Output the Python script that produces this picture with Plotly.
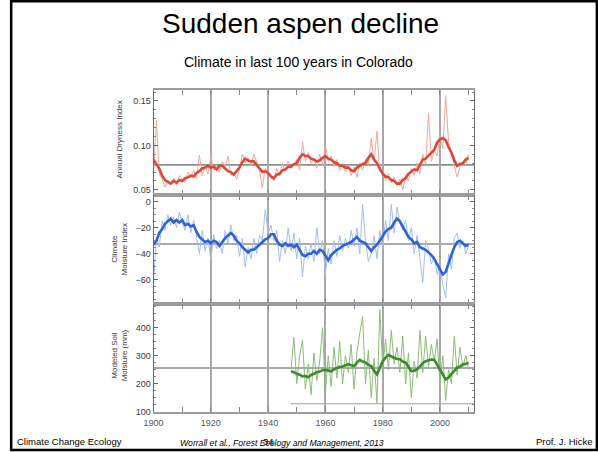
import plotly.graph_objects as go

# ---------------------------------------------------------------- data
years = list(range(1900, 2011))

dry_annual = [
    0.070, 0.128, 0.068, 0.062, 0.053, 0.060, 0.058, 0.063, 0.055, 0.066,
    0.062, 0.058, 0.070, 0.064, 0.072, 0.062, 0.089, 0.066, 0.077, 0.068,
    0.088, 0.072, 0.078, 0.070, 0.082, 0.076, 0.088, 0.066, 0.070, 0.062,
    0.072, 0.090, 0.080, 0.086, 0.078, 0.090, 0.082, 0.072, 0.052, 0.074,
    0.068, 0.064, 0.060, 0.074, 0.066, 0.080, 0.070, 0.082, 0.074, 0.078,
    0.084, 0.072, 0.104, 0.082, 0.092, 0.080, 0.086, 0.074, 0.090, 0.078,
    0.100, 0.082, 0.088, 0.076, 0.084, 0.072, 0.080, 0.070, 0.078, 0.066,
    0.076, 0.064, 0.080, 0.072, 0.084, 0.078, 0.108, 0.082, 0.116, 0.070,
    0.072, 0.060, 0.068, 0.058, 0.064, 0.054, 0.062, 0.050, 0.066, 0.060,
    0.074, 0.066, 0.080, 0.068, 0.090, 0.078, 0.136, 0.082, 0.094, 0.088,
    0.112, 0.096, 0.155, 0.104, 0.090, 0.078, 0.064, 0.076, 0.082, 0.078,
    0.090,
]
dry_smooth = [
    0.084, 0.079, 0.074, 0.066, 0.061, 0.059, 0.057, 0.060, 0.058, 0.061,
    0.060, 0.063, 0.064, 0.066, 0.065, 0.069, 0.071, 0.074, 0.075, 0.077,
    0.075, 0.076, 0.073, 0.077, 0.077, 0.074, 0.071, 0.070, 0.067, 0.071,
    0.075, 0.081, 0.085, 0.083, 0.082, 0.082, 0.078, 0.075, 0.070, 0.071,
    0.069, 0.065, 0.063, 0.067, 0.068, 0.072, 0.073, 0.076, 0.076, 0.079,
    0.080, 0.086, 0.090, 0.088, 0.088, 0.085, 0.084, 0.082, 0.083, 0.086,
    0.088, 0.085, 0.084, 0.081, 0.080, 0.077, 0.077, 0.075, 0.075, 0.072,
    0.071, 0.075, 0.077, 0.079, 0.080, 0.086, 0.090, 0.084, 0.080, 0.073,
    0.068, 0.065, 0.064, 0.061, 0.060, 0.057, 0.057, 0.061, 0.063, 0.068,
    0.071, 0.073, 0.072, 0.079, 0.084, 0.085, 0.088, 0.092, 0.095, 0.103,
    0.107, 0.108, 0.106, 0.098, 0.092, 0.083, 0.077, 0.079, 0.080, 0.084,
    0.086,
]

cmi_annual = [
    -62, -28, -35, -15, -22, -10, -18, -12, -20, -8,
    -16, -22, -10, -24, -14, -26, -40, -22, -38, -28,
    -45, -25, -36, -30, -40, -22, -32, -18, -30, -26,
    -42, -28, -50, -35, -44, -28, -40, -26, -30, -6,
    -24, -18, -30, -22, -46, -30, -40, -20, -38, -24,
    -44, -28, -58, -34, -44, -32, -46, -20, -40, -30,
    -56, -36, -48, -30, -42, -26, -38, -28, -36, -22,
    -34, -20, -40, -2, -30, -46, -40, -26, -44, -22,
    -36, -14, -30, -2, -24, -4, -16, -22, -14, -30,
    -20, -40, -26, -44, -62, -30, -36, -48, -42, -56,
    -50, -64, -74, -40, -52, -28, -24, -36, -30, -40,
    -34,
]
cmi_smooth = [
    -33, -30, -24, -21, -17, -15, -13, -16, -14, -16,
    -14, -18, -17, -19, -18, -23, -27, -29, -31, -30,
    -32, -30, -31, -34, -31, -28, -26, -24, -26, -30,
    -32, -35, -37, -39, -37, -37, -35, -33, -31, -29,
    -28, -25, -25, -30, -33, -34, -32, -34, -33, -35,
    -33, -37, -41, -42, -40, -40, -38, -40, -37, -38,
    -42, -45, -41, -39, -37, -36, -34, -33, -32, -31,
    -29, -27, -30, -31, -32, -35, -38, -35, -33, -30,
    -26, -23, -21, -20, -16, -13, -15, -19, -23, -27,
    -29, -32, -31, -35, -36, -37, -39, -41, -44, -48,
    -53, -56, -54, -47, -41, -35, -31, -30, -32, -34,
    -33,
]

soil_years = list(range(1948, 2011))
soil_annual = [
    250, 365, 200, 300, 355, 180, 270, 160, 310, 210,
    280, 400, 170, 300, 190, 330, 220, 350, 200, 300,
    240, 340, 180, 310, 380, 440, 200, 320, 150, 290,
    130, 465, 260, 360, 250, 390, 270, 330, 240, 370,
    200, 310, 150, 280, 220, 390, 240, 370, 260, 340,
    280, 360, 200, 300, 140, 250, 200, 370, 230, 330,
    260, 300, 250,
]
soil_smooth = [
    244, 241, 235, 232, 226, 227, 223, 231, 235, 241,
    243, 248, 249, 246, 244, 251, 255, 260, 261, 267,
    270, 266, 263, 275, 285, 279, 275, 267, 263, 246,
    233, 257, 279, 293, 303, 297, 293, 288, 287, 279,
    275, 258, 245, 246, 251, 262, 273, 280, 282, 286,
    285, 268, 250, 231, 215, 222, 233, 243, 257, 261,
    269, 270, 275,
]

# long-term reference levels drawn as horizontal guides
dry_mean = 0.078
cmi_mean = -32.5
soil_mean = 256
soil_base = 128

x_range = [1900, 2012]

# ---------------------------------------------------------------- layout helpers
W, H = 598, 452
# the page body insets the figure a little; screen positions below are
# converted back to figure coordinates with that inset taken out
INSET_X, SCALE_X, SCALE_Y = 8.0, 0.987, 0.99


def px(x):
    return (x / SCALE_X - INSET_X) / W


def py(y):
    return 1 - (y / SCALE_Y) / H


x_dom = [px(152), px(474)]
dom_top = [py(195), py(90)]
dom_mid = [py(304), py(195)]
dom_bot = [py(412), py(304)]

FONT = "Liberation Sans, Arial, sans-serif"
TICK_FONT = dict(family=FONT, size=9, color="#3a3a3a")

fig = go.Figure()

# annual series (thin) then smoothed series (thick)
fig.add_trace(go.Scatter(x=years, y=dry_annual, xaxis="x", yaxis="y", mode="lines",
                         line=dict(color="#f4a59b", width=1), hoverinfo="skip"))
fig.add_trace(go.Scatter(x=years, y=dry_smooth, xaxis="x", yaxis="y", mode="lines",
                         line=dict(color="#d8493a", width=2.6), hoverinfo="skip"))

fig.add_trace(go.Scatter(x=years, y=cmi_annual, xaxis="x2", yaxis="y2", mode="lines",
                         line=dict(color="#a4bdf0", width=1), hoverinfo="skip"))
fig.add_trace(go.Scatter(x=years, y=cmi_smooth, xaxis="x2", yaxis="y2", mode="lines",
                         line=dict(color="#2f62d6", width=2.6), hoverinfo="skip"))

fig.add_trace(go.Scatter(x=soil_years, y=soil_annual, xaxis="x3", yaxis="y3", mode="lines",
                         line=dict(color="#8dbc79", width=1), hoverinfo="skip"))
fig.add_trace(go.Scatter(x=soil_years, y=soil_smooth, xaxis="x3", yaxis="y3", mode="lines",
                         line=dict(color="#3b8a2c", width=2.6), hoverinfo="skip"))


def x_axis(anchor, labels):
    return dict(
        domain=x_dom, range=x_range, anchor=anchor,
        tick0=1900, dtick=20,
        showgrid=True, gridcolor="#a8a8a8", gridwidth=2,
        zeroline=False,
        showline=True, linecolor="#9c9c9c", linewidth=2, mirror="ticks",
        ticks="inside", ticklen=5, tickcolor="#8a8a8a", tickwidth=1,
        minor=dict(dtick=10, tick0=1900, ticks="inside", ticklen=5,
                   tickcolor="#8a8a8a", showgrid=False),
        showticklabels=labels, tickfont=dict(family=FONT, size=9, color="#555555"),
        ticklabelstandoff=2,
    )


def y_axis(dom, rng, tickvals, minor_dtick, anchor, fmt=None):
    ax = dict(
        domain=dom, range=rng, anchor=anchor,
        tickvals=tickvals,
        showgrid=False, zeroline=False,
        showline=True, linecolor="#6a6a6a", linewidth=1, mirror="ticks",
        ticks="inside", ticklen=4, tickcolor="#6a6a6a",
        minor=dict(dtick=minor_dtick, ticks="inside", ticklen=2, tickcolor="#8a8a8a"),
        tickfont=TICK_FONT,
    )
    if fmt:
        ax["tickformat"] = fmt
    return ax


fig.update_layout(
    width=W, height=H,
    margin=dict(l=0, r=0, t=0, b=0),
    paper_bgcolor="white", plot_bgcolor="white",
    showlegend=False,
    xaxis=x_axis("y", False),
    xaxis2=x_axis("y2", False),
    xaxis3=x_axis("y3", True),
    yaxis=y_axis(dom_top, [0.0444, 0.1624], [0.05, 0.10, 0.15], 0.01, "x", ".2f"),
    yaxis2=y_axis(dom_mid, [-78.5, 5.4], [0, -20, -40, -60], 5, "x2"),
    yaxis3=y_axis(dom_bot, [100, 486], [100, 200, 300, 400], 25, "x3"),
)

# horizontal reference levels
guide = dict(color="#8e8e8e", width=1.6)
fig.add_shape(type="line", xref="x", yref="y", x0=x_range[0], x1=x_range[1],
              y0=dry_mean, y1=dry_mean, line=guide, layer="below")
fig.add_shape(type="line", xref="x2", yref="y2", x0=x_range[0], x1=x_range[1],
              y0=cmi_mean, y1=cmi_mean, line=guide, layer="below")
fig.add_shape(type="line", xref="x3", yref="y3", x0=x_range[0], x1=x_range[1],
              y0=soil_mean, y1=soil_mean, line=guide, layer="below")
fig.add_shape(type="line", xref="x3", yref="y3", x0=soil_years[0], x1=x_range[1],
              y0=soil_base, y1=soil_base, line=dict(color="#a0a0a0", width=1.2), layer="below")

# slide frame
fig.add_shape(type="rect", xref="paper", yref="paper",
              x0=0.002, x1=px(597), y0=py(450.5), y1=py(1.2),
              line=dict(color="black", width=2.5))

# axis titles
ytitle_font = dict(family=FONT, size=8, color="#3a3a3a")
for text, yc in [("Annual Dryness Index", 140),
                 ("Climate<br>Moisture Index", 250),
                 ("Modeled Soil<br>Moisture (mm)", 356)]:
    fig.add_annotation(text=text, xref="paper", yref="paper", x=px(118), y=py(yc),
                       textangle=-90, showarrow=False, font=ytitle_font,
                       xanchor="center", yanchor="middle")

# slide text
fig.add_annotation(text="Sudden aspen decline", xref="paper", yref="paper",
                   x=px(299), y=py(24), showarrow=False, xanchor="center", yanchor="middle",
                   font=dict(family=FONT, size=28, color="black"))
fig.add_annotation(text="Climate in last 100 years in Colorado", xref="paper", yref="paper",
                   x=px(297), y=py(62), showarrow=False, xanchor="center", yanchor="middle",
                   font=dict(family=FONT, size=14, color="black"))
fig.add_annotation(text="Climate Change Ecology", xref="paper", yref="paper",
                   x=px(13), y=py(442), showarrow=False, xanchor="left", yanchor="middle",
                   font=dict(family=FONT, size=9.5, color="black"))
fig.add_annotation(text="<i>Worrall et al., Forest Ecology and Management, 2013</i>",
                   xref="paper", yref="paper",
                   x=px(177), y=py(443), showarrow=False, xanchor="left", yanchor="middle",
                   font=dict(family=FONT, size=8.6, color="black"))
fig.add_annotation(text="34", xref="paper", yref="paper",
                   x=px(267), y=py(442), showarrow=False, xanchor="center", yanchor="middle",
                   font=dict(family=FONT, size=9.5, color="black"))
fig.add_annotation(text="Prof. J. Hicke", xref="paper", yref="paper",
                   x=px(595), y=py(442), showarrow=False, xanchor="right", yanchor="middle",
                   font=dict(family=FONT, size=9.5, color="black"))

fig.write_html("out.html")
